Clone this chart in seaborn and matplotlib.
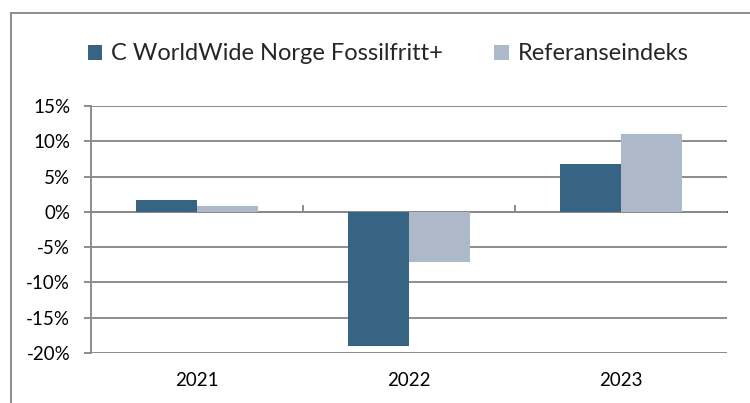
import pandas as pd
import seaborn as sns
import matplotlib.pyplot as plt
from matplotlib.lines import Line2D
from matplotlib.ticker import FuncFormatter, MultipleLocator

# Values (annual return, %)
years = ['2021', '2022', '2023']
fund_name = 'C WorldWide Norge Fossilfritt+'
index_name = 'Referanseindeks'
fund_returns = [1.7, -19.0, 6.8]
index_returns = [0.9, -7.1, 11.1]

colors = ['#366482', '#adb9c9']
grid_color = '#8c8c8c'

sns.set_theme(style='white')
plt.rcParams['font.family'] = ['Lato', 'DejaVu Sans']

data = pd.DataFrame({
    'year': years * 2,
    'value': fund_returns + index_returns,
    'series': [fund_name] * len(years) + [index_name] * len(years),
})

fig = plt.figure(figsize=(7.5, 4.03), dpi=100)
ax = fig.add_axes([91 / 750, 1 - 353 / 403, 636 / 750, 247 / 403])

sns.barplot(data=data, x='year', y='value', hue='series', palette=colors,
            saturation=1, width=0.575, linewidth=0, ax=ax, zorder=3)

ymin, ymax = -20, 15
ax.set_ylim(ymin, ymax)
ax.set_xlim(-0.5, len(years) - 0.5)
ax.yaxis.set_major_locator(MultipleLocator(5))
ax.yaxis.set_major_formatter(FuncFormatter(lambda v, p: f'{v:.0f}%'))
ax.set_xlabel('')
ax.set_ylabel('')

ax.yaxis.grid(True, color=grid_color, linewidth=1.4, zorder=0)
ax.set_axisbelow(True)
for side in ['top', 'right', 'bottom']:
    ax.spines[side].set_visible(False)
ax.spines['left'].set_color(grid_color)
ax.spines['left'].set_linewidth(1.4)

ax.tick_params(axis='y', which='major', length=5, width=1.4, color=grid_color,
               labelsize=13.5, labelcolor='black', pad=10, left=True)
ax.tick_params(axis='x', length=0, labelsize=13.5, labelcolor='black', pad=14)

# small category-boundary ticks hanging below the zero line
zero_frac = (0 - ymin) / (ymax - ymin)
sec = ax.secondary_xaxis(zero_frac)
sec.set_xticks([i + 0.5 for i in range(len(years) - 1)])
sec.set_xticklabels([])
sec.tick_params(length=5, width=1.4, color=grid_color, direction='out')
sec.spines['bottom'].set_visible(False)

# legend across the top
handles, labels = ax.get_legend_handles_labels()
ax.get_legend().remove()
fig.legend(handles, labels, loc='center', bbox_to_anchor=(388 / 750, 1 - 54 / 403),
           ncol=2, frameon=False, fontsize=17, handlelength=0.62, handleheight=0.62,
           handletextpad=0.35, columnspacing=2.2)

# outer chart frame (top and left edge only, as in the reference)
fig.add_artist(Line2D([11 / 750, 11 / 750], [0, 1 - 13 / 403], color=grid_color, linewidth=1.4))
fig.add_artist(Line2D([11 / 750, 1], [1 - 13 / 403, 1 - 13 / 403], color=grid_color, linewidth=1.4))

fig.savefig('out.png', dpi=100)
